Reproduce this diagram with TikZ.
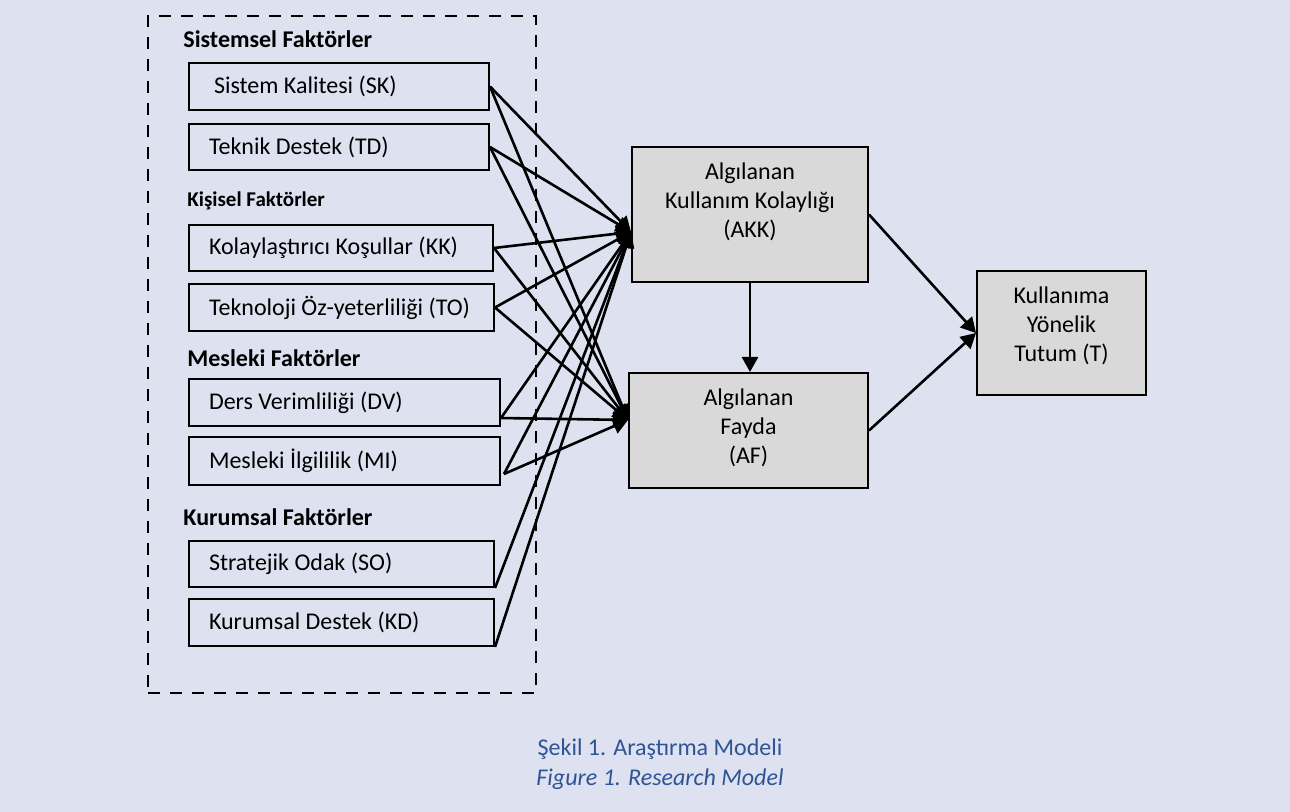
\documentclass[tikz,border=0pt]{standalone}
\usepackage{fontspec}
\setmainfont{Carlito}
\usetikzlibrary{arrows.meta,calc}
\definecolor{bg}{RGB}{221,225,240}
\definecolor{boxgray}{RGB}{217,217,217}
\definecolor{capblue}{RGB}{47,84,150}
\newcommand{\lt}[2]{\makebox[#1pt][l]{#2}}
\begin{document}
\begin{tikzpicture}[x=0.5pt,y=-0.5pt,
 lbox/.style={draw=black, line width=1pt, anchor=west, inner xsep=10pt, inner ysep=0pt, font=\fontsize{12}{14.5}\selectfont},
 rbox/.style={draw=black, line width=1pt, fill=boxgray, inner sep=0pt},
 rtext/.style={align=center, font=\fontsize{12}{14.5}\selectfont, inner sep=0pt},
 head/.style={anchor=base west, inner sep=0pt, font=\bfseries\fontsize{12}{14}\selectfont},
 conn/.style={line width=1.3pt, -{Triangle[length=7.5pt,width=8pt]}},
 grp/.style={draw=black, line width=1.4pt, dash pattern=on 6pt off 5pt, inner sep=0pt},
 captxt/.style={anchor=base, inner sep=0pt, text=capblue, font=\fontsize{12}{14}\selectfont},
]
\fill[bg] (0,0) rectangle (1290,812);
\node[grp, minimum width=194pt, minimum height=338.5pt] (G) at (342,354.5) {};

% headings
\node[head] (hSis) at (183,48) {Sistemsel Faktörler};
\node[head, font=\bfseries\fontsize{10.5}{12}\selectfont] (hKis) at (187,207) {Kişisel Faktörler};
\node[head] (hMes) at (187,367) {Mesleki Faktörler};
\node[head] (hKur) at (183,525) {Kurumsal Faktörler};

% left boxes
\node[lbox, minimum height=23.5pt] (SK) at (188,86.5) {\lt{130}{\hspace{2.5pt}Sistem Kalitesi (SK)}};
\node[lbox, minimum height=23pt] (TD) at (188,147) {\lt{130}{Teknik Destek (TD)}};
\node[lbox, minimum height=23pt] (KK) at (188,248) {\lt{132}{Kolaylaştırıcı Koşullar (KK)}};
\node[lbox, minimum height=23.5pt] (TO) at (188,307.5) {\lt{132.5}{Teknoloji Öz-yeterliliği (TO)}};
\node[lbox, minimum height=23.5pt] (DV) at (188,402.5) {\lt{135.5}{Ders Verimliliği (DV)}};
\node[lbox, minimum height=24pt] (MI) at (188,461) {\lt{135.5}{Mesleki İlgililik (MI)}};
\node[lbox, minimum height=23pt] (SO) at (188,564) {\lt{132.5}{Stratejik Odak (SO)}};
\node[lbox, minimum height=23.5pt] (KD) at (188,622.5) {\lt{132.5}{Kurumsal Destek (KD)}};

% right boxes
\node[rbox, minimum width=118pt, minimum height=67.5pt] (AKK) at (750,214.5) {};
\node[rtext] (AKKt) at (750,202) {Algılanan\\Kullanım Kolaylığı\\(AKK)};
\node[rbox, minimum width=119.5pt, minimum height=57.5pt] (AF) at (748.5,430.5) {};
\node[rtext] (AFt) at (748.5,428) {Algılanan\\Fayda\\(AF)};
\node[rbox, minimum width=84.5pt, minimum height=62pt] (T) at (1061.5,333) {};
\node[rtext] (Tt) at (1061.5,326) {Kullanıma\\Yönelik\\Tutum (T)};

% connector end points
\coordinate (tA) at ($(AKK.west)+(0,17.5)$);
\coordinate (tF) at ($(AF.west)+(0,-10.5)$);
\coordinate (DVo) at ($(DV.south east)+(0,-9)$);
\coordinate (MIo) at ($(MI.south east)+(3,-12)$);
\coordinate (SOo) at (SO.south east);
\coordinate (KDo) at (KD.south east);

\foreach \s in {SK.east,TD.east,KK.east,TO.east,DVo,MIo,SOo,KDo}
  \draw[conn] (\s) -- (tA);
\foreach \s in {SK.east,TD.east,KK.east,TO.east,DVo,MIo}
  \draw[conn] (\s) -- (tF);

\draw[conn] (AKK.south) -- (AKK.south |- AF.north);
\draw[conn] (AKK.east) -- (T.west);
\draw[conn] (AF.east) -- (T.west);

% caption
\node[captxt] (c1) at (660,755) {Şekil 1. Araştırma Modeli};
\node[captxt, font=\itshape\fontsize{12}{14}\selectfont] (c2) at (660,785) {Figure 1. Research Model};
\end{tikzpicture}
\end{document}
